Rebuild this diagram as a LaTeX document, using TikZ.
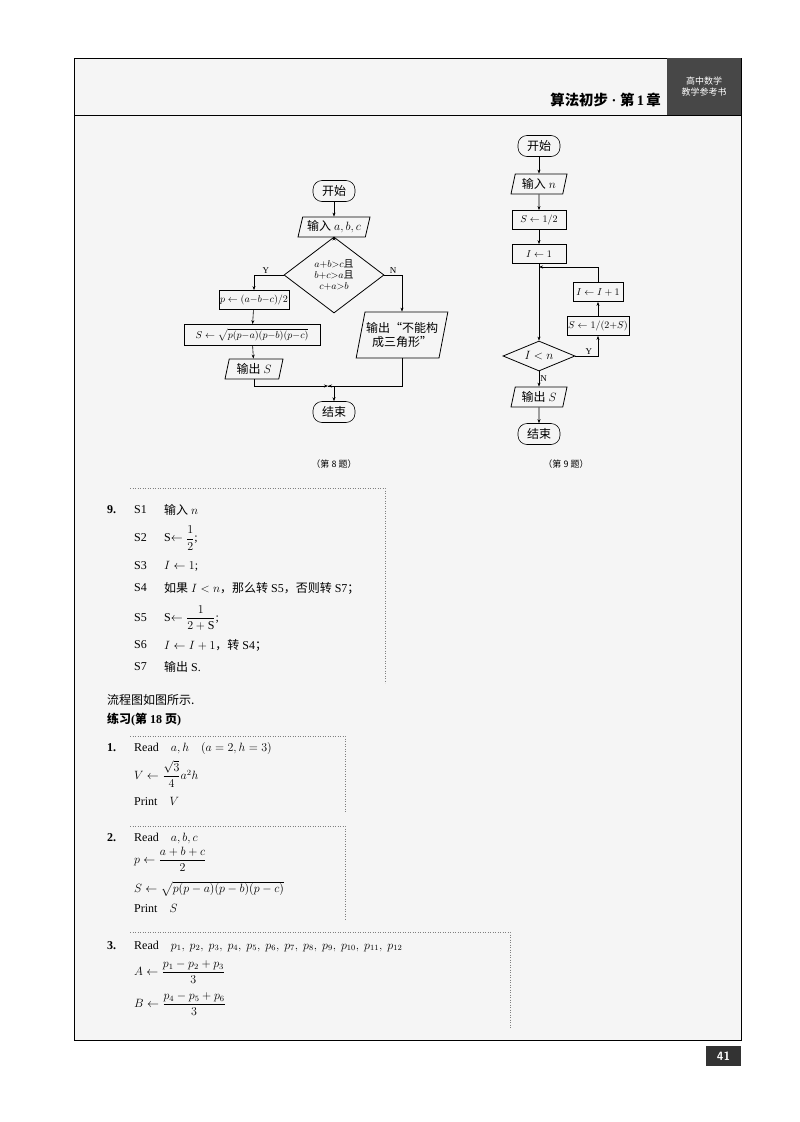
\documentclass[tikz,border=0pt]{standalone}
\usepackage{fontspec}
\usepackage{amsmath}
\setmainfont{Liberation Serif}
\newfontfamily\cjk{Noto Sans CJK SC}
\newcommand\zh[1]{{\cjk #1}}
\usetikzlibrary{shapes.geometric,arrows.meta}
\begin{document}
\begin{tikzpicture}[x=1pt,y=-1pt,
 every node/.style={font=\large, inner sep=1pt},
 ar/.style={-{Stealth[length=4pt,width=3pt]}, line width=0.6pt},
 term/.style={draw, line width=0.6pt, rounded corners=9pt, minimum width=42pt, minimum height=21pt},
 proc/.style={draw, line width=0.8pt, minimum height=19pt},
 io/.style={draw, line width=0.8pt, trapezium, trapezium left angle=72, trapezium right angle=108, trapezium stretches body, minimum height=20pt},
 dec/.style={draw, line width=0.8pt, diamond, inner sep=0pt},
 dot/.style={dotted, line width=0.5pt, gray},
 tx/.style={anchor=west, font=\large}]
\useasboundingbox (0,0) rectangle (800,1122);
\fill[white] (0,0) rectangle (800,1122);
\fill[gray!8] (74,58) rectangle (741,1040);
\draw[line width=0.6pt] (74,58) rectangle (741,1040);
\draw[line width=0.6pt] (74,115) -- (741,115);
\fill[black!72] (667,58) rectangle (741,115);
\node[font=\cjk\small, text=white, align=center] (hb) at (704,87) {高中数学\\教学参考书};
\node[font=\Large\bfseries, anchor=east] (ht) at (662,100) {\zh{算法初步} · \zh{第}\,1\,\zh{章}};
\fill[black!80] (706,1046) rectangle (741,1066);
\node[text=white, font=\sffamily\bfseries\large] (pg) at (723.5,1056) {41};

% flowchart 8
\node[term] (a1) at (334,191) {\zh{开始}};
\node[io, minimum width=72pt] (a2) at (334,227) {\zh{输入} $a,b,c$};
\node[dec, minimum width=100pt, minimum height=76pt] (a3) at (334,275) {};
\node[align=center, font=\normalsize] (a3t) at (334,275) {$a{+}b{>}c$\zh{且}\\[-1pt]$b{+}c{>}a$\zh{且}\\[-1pt]$c{+}a{>}b$};
\node[proc, minimum width=70pt, font=\normalsize] (a4) at (254,300) {$p\leftarrow(a{-}b{-}c)/2$};
\node[proc, minimum width=136pt, minimum height=21pt, font=\normalsize] (a5) at (252,335) {$S\leftarrow\sqrt{p(p{-}a)(p{-}b)(p{-}c)}$};
\node[io, minimum width=58pt] (a6) at (254,369) {\zh{输出} $S$};
\node[io, minimum width=88pt, minimum height=46pt, align=center, font=\cjk\large] (a7) at (402,335) {输出“不能构\\成三角形”};
\node[term] (a8) at (334,412) {\zh{结束}};
\coordinate (j) at (328,386);
\draw[ar] (a1) -- (a2);
\draw[ar] (a2) -- (a3);
\draw[ar] (a3.west) -- (254,275) node[pos=0.6, above, font=\small] (ly) {Y} -- (a4);
\draw[ar] (a4) -- (a5);
\draw[ar] (a5) -- (a6);
\draw[ar] (a3.east) -- (402,275) node[pos=0.5, above, font=\small] (ln8) {N} -- (a7);
\draw[ar] (a6) -- (254,386) -- (j);
\draw[ar] (a7) -- (402,386) -- (j);
\draw[ar] (j) -- (334,386) -- (a8);
\node[font=\cjk\small] (c8) at (334,464) {（第 8 题）};

% flowchart 9
\node[term] (b1) at (539,146) {\zh{开始}};
\node[io, minimum width=56pt] (b2) at (539,184) {\zh{输入} $n$};
\node[proc, minimum width=54pt, font=\normalsize] (b3) at (539,220) {$S\leftarrow1/2$};
\node[proc, minimum width=54pt, font=\normalsize] (b4) at (539,254) {$I\leftarrow1$};
\node[dec, minimum width=72pt, minimum height=30pt, aspect=2.5] (b5) at (539,356) {$I<n$};
\node[proc, minimum width=62pt, font=\normalsize] (b6) at (598,326) {$S\leftarrow1/(2{+}S)$};
\node[proc, minimum width=50pt, font=\normalsize] (b7) at (598,292) {$I\leftarrow I+1$};
\node[io, minimum width=56pt] (b8) at (539,397) {\zh{输出} $S$};
\node[term] (b9) at (539,434) {\zh{结束}};
\coordinate (k) at (539,267);
\draw[ar] (b1) -- (b2);
\draw[ar] (b2) -- (b3);
\draw[ar] (b3) -- (b4);
\draw[ar] (b4) -- (b5);
\draw[ar] (b5.east) -- (598,356) node[pos=0.6, above, font=\small] (ly9) {Y} -- (b6);
\draw[ar] (b6) -- (b7);
\draw[ar] (b7) -- (598,267) -- (k);
\draw[ar] (b5) -- (b8) node[midway, right, font=\small] (ln9) {N};
\draw[ar] (b8) -- (b9);
\node[font=\cjk\small] (c9) at (566,464) {（第 9 题）};

% answer 9
\draw[dot] (130,488) -- (385,488) -- (385,683);
\node[tx, font=\large\bfseries] (n9) at (106,510) {9.};
\node[tx] (s1) at (133,510) {S1};
\node[tx] (t1) at (163,510) {\zh{输入} $n$};
\node[tx] (s2) at (133,538) {S2};
\node[tx] (t2) at (163,538) {S$\leftarrow\dfrac{1}{2}$;};
\node[tx] (s3) at (133,566) {S3};
\node[tx] (t3) at (163,566) {$I\leftarrow1$;};
\node[tx] (s4) at (133,588) {S4};
\node[tx] (t4) at (163,588) {\zh{如果} $I<n$\zh{，那么转} S5\zh{，否则转} S7\zh{；}};
\node[tx] (s5) at (133,618) {S5};
\node[tx] (t5) at (163,618) {S$\leftarrow\dfrac{1}{2+\text{S}}$;};
\node[tx] (s6) at (133,645) {S6};
\node[tx] (t6) at (163,645) {$I\leftarrow I+1$\zh{，转} S4\zh{；}};
\node[tx] (s7) at (133,667) {S7};
\node[tx] (t7) at (163,667) {\zh{输出} S.};
\node[tx, font=\cjk\large] (p1) at (106,700) {流程图如图所示.};
\node[tx, font=\large\bfseries] (p2) at (106,720) {\zh{练习}(\zh{第} 18 \zh{页})};

% box 1
\draw[dot] (130,736) -- (345,736) -- (345,813);
\node[tx, font=\large\bfseries] (m1) at (106,748) {1.};
\node[tx] (r1) at (133,748) {Read\quad $a,h\quad (a=2,h=3)$};
\node[tx] (r2) at (133,774) {$V\leftarrow\dfrac{\sqrt3}{4}a^2h$};
\node[tx] (r3) at (133,801) {Print\quad $V$};

% box 2
\draw[dot] (130,826) -- (345,826) -- (345,920);
\node[tx, font=\large\bfseries] (m2) at (106,838) {2.};
\node[tx] (q1) at (133,838) {Read\quad $a,b,c$};
\node[tx] (q2) at (133,859) {$p\leftarrow\dfrac{a+b+c}{2}$};
\node[tx] (q3) at (133,889) {$S\leftarrow\sqrt{p(p-a)(p-b)(p-c)}$};
\node[tx] (q4) at (133,908) {Print\quad $S$};

% box 3
\draw[dot] (130,932) -- (510,932) -- (510,1028);
\node[tx, font=\large\bfseries] (m3) at (106,946) {3.};
\node[tx] (w1) at (133,946) {Read\quad $p_1,\ p_2,\ p_3,\ p_4,\ p_5,\ p_6,\ p_7,\ p_8,\ p_9,\ p_{10},\ p_{11},\ p_{12}$};
\node[tx] (w2) at (133,972) {$A\leftarrow\dfrac{p_1-p_2+p_3}{3}$};
\node[tx] (w3) at (133,1004) {$B\leftarrow\dfrac{p_4-p_5+p_6}{3}$};
\end{tikzpicture}
\end{document}
